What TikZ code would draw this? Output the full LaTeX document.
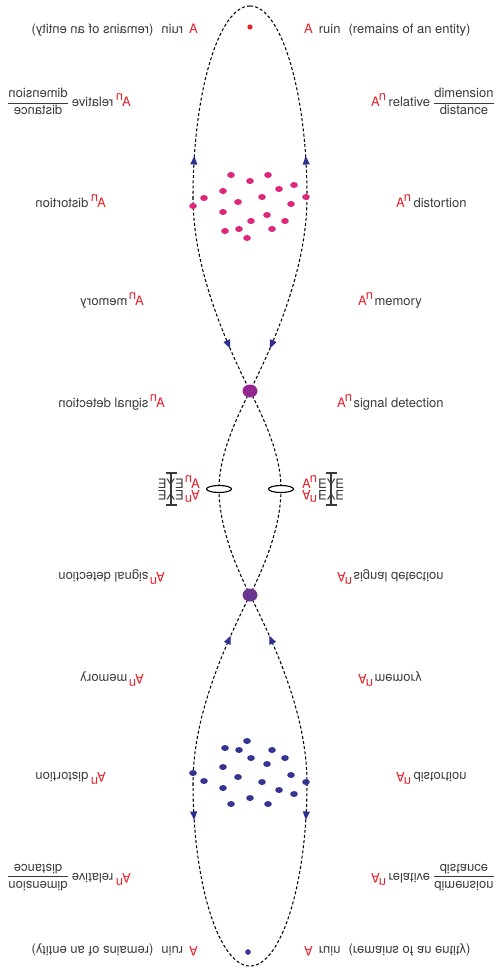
\documentclass[tikz,border=0pt]{standalone}
\usepackage{fontspec}
\setmainfont{TeX Gyre Heros}
\usetikzlibrary{arrows.meta,decorations.markings,shapes.geometric}
\definecolor{tgray}{HTML}{3A3A3A}
\definecolor{ared}{HTML}{E8202A}
\definecolor{pinkdot}{HTML}{E0267C}
\definecolor{bluedot}{HTML}{363492}
\definecolor{arrowblue}{HTML}{2E3192}
\definecolor{purpA}{HTML}{93278F}
\definecolor{purpB}{HTML}{68368F}
\newcommand{\An}{{\color{ared}A\kern-1pt\raisebox{5.5pt}{n}}}
\newcommand{\Frac}{\(\displaystyle\frac{\mbox{dimension}}{\mbox{distance}}\)}
\newcommand{\fourlabels}[4]{%
  \node[lbl] (#1TR) at (#2,#3) {#4};
  \node[lbl, xscale=-1] (#1TL) at ({502-#2},#3) {#4};
  \node[lbl, yscale=-1] (#1BR) at (#2,{979-#3}) {#4};
  \node[lbl, xscale=-1, yscale=-1] (#1BL) at ({502-#2},{979-#3}) {#4};
}
\pgfdeclarelayer{bg}
\pgfsetlayers{bg,main}
\begin{document}
\begin{tikzpicture}[x=1pt,y=-1pt,
  lbl/.style={font=\fontsize{13}{15}\selectfont, text=tgray, inner sep=0pt, anchor=base west},
  dashline/.style={draw=black, line width=1.05pt, dash pattern=on 3pt off 2.2pt},
  arrowat/.style={postaction={decorate}, decoration={markings, mark=at position #1 with {\arrow{Triangle[length=8.5pt,width=7pt,color=arrowblue]}}}},
  arrowrevat/.style={postaction={decorate}, decoration={markings, mark=at position #1 with {\arrowreversed{Triangle[length=8.5pt,width=7pt,color=arrowblue]}}}},
  bigdot/.style={ellipse, minimum width=15pt, minimum height=13pt, inner sep=0pt},
  lens/.style={draw=black, fill=white, ellipse, minimum width=25pt, minimum height=7pt, inner sep=0pt, line width=1.1pt},
  beam/.style={draw=tgray, line width=1.1pt}
]
\useasboundingbox (0,0) rectangle (501,969);

% key points
\coordinate (top) at (250,6);
\coordinate (bot) at (250,966);
\coordinate (sR1) at (307,197);
\coordinate (sL1) at (193,197);
\coordinate (sR2) at (307,783);
\coordinate (sL2) at (193,783);
\node[bigdot, fill=purpA] (dot1) at (250,391) {};
\node[bigdot, fill=purpB] (dot2) at (250,595) {};
\node[lens] (ellL) at (219,489) {};
\node[lens] (ellR) at (281,489) {};

\begin{pgfonlayer}{bg}
% path through right top side
\draw[dashline, arrowrevat=-41pt] (top) .. controls (281,6) and (307,92) .. (sR1);
\draw[dashline, arrowat=-47pt] (sR1) .. controls (307,265) and (278,335) .. (dot1.center);
\draw[dashline] (dot1.center) .. controls (236,419) and (219,455) .. (ellL.center);
\draw[dashline] (ellL.center) .. controls (219,527) and (236,567) .. (dot2.center);
\draw[dashline, arrowrevat=45pt] (dot2.center) .. controls (278,651) and (307,718) .. (sR2);
\draw[dashline, arrowat=37pt] (sR2) .. controls (307,884) and (281,966) .. (bot);
% path through left top side
\draw[dashline, arrowrevat=-41pt] (top) .. controls (219,6) and (193,92) .. (sL1);
\draw[dashline, arrowat=-47pt] (sL1) .. controls (193,265) and (222,335) .. (dot1.center);
\draw[dashline] (dot1.center) .. controls (264,419) and (281,455) .. (ellR.center);
\draw[dashline] (ellR.center) .. controls (281,527) and (264,567) .. (dot2.center);
\draw[dashline, arrowrevat=45pt] (dot2.center) .. controls (222,651) and (193,718) .. (sL2);
\draw[dashline, arrowat=37pt] (sL2) .. controls (193,884) and (219,966) .. (bot);
\end{pgfonlayer}

% small dots
\fill[ared] (250,27) circle [radius=2.6];
\fill[bluedot] (248,952) circle [radius=2.8];
\foreach \px/\py in {231/175,268/175,250/181,294/185,223/191,279/189,204/198,262/197,306/197,193/206,238/202,291/204,223/212,267/215,251/221,285/221,225/231,239/229,272/229,247/238}{
  \fill[pinkdot] (\px,\py) ellipse [x radius=3.8, y radius=3];
  \fill[bluedot] (\px,{979-\py}) ellipse [x radius=3.8, y radius=3];
}

% labels
\fourlabels{ruin}{304}{33}{{\color{ared}A}\hspace{6pt}ruin\hspace{8pt}(remains of an entity)}
\fourlabels{rel}{371}{106}{\An\hspace{2.5pt}relative\hspace{3pt}\Frac}
\fourlabels{dist}{396}{207}{\An\hspace{2.5pt}distortion}
\fourlabels{mem}{358}{305}{\An\hspace{1.5pt}memory}
\fourlabels{sig}{337}{407}{\An\hspace{1.5pt}signal detection}

% middle glyphs
\node[lbl] (midR) at (302,488) {\An\kern1pt EYE};
\node[lbl, yscale=-1] (midRm) at (302,490) {\An\kern1pt EYE};
\node[lbl, xscale=-1] (midL) at (200,488) {\An\kern1pt EYE};
\node[lbl, xscale=-1, yscale=-1] (midLm) at (200,490) {\An\kern1pt EYE};
\draw[beam] (325.5,473) -- (336.5,473) (331,473) -- (331,505) (325.5,505) -- (336.5,505);
\draw[beam] (165.5,473) -- (176.5,473) (171,473) -- (171,505) (165.5,505) -- (176.5,505);
\end{tikzpicture}
\end{document}
